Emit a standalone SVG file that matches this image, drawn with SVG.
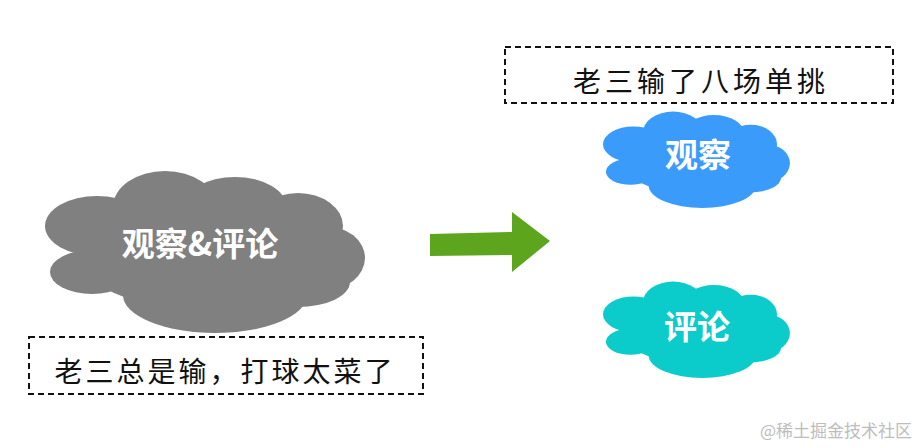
<svg xmlns="http://www.w3.org/2000/svg" xmlns:xlink="http://www.w3.org/1999/xlink" width="924" height="448" viewBox="0 0 924 448">
<defs>
<style>
.lbl{font-family:"Noto Sans CJK SC","Noto Sans",sans-serif;font-weight:bold;fill:#fff;text-anchor:middle}
.note{font-family:"Noto Sans CJK SC","Noto Sans",sans-serif;fill:#111;text-anchor:middle}
.box{fill:none;stroke:#111;stroke-width:2;stroke-dasharray:6 4}
</style>
<g id="cloud">
<ellipse cx="205" cy="250" rx="130" ry="60"/>
<ellipse cx="165" cy="207" rx="52" ry="36"/>
<ellipse cx="235" cy="208" rx="52" ry="31"/>
<ellipse cx="298" cy="226" rx="45" ry="33"/>
<ellipse cx="325" cy="258" rx="40" ry="32"/>
<ellipse cx="97" cy="226" rx="52" ry="30"/>
<ellipse cx="92" cy="272" rx="42" ry="22"/>
<ellipse cx="215" cy="295" rx="92" ry="38"/>
<ellipse cx="298" cy="282" rx="52" ry="25"/>
</g>
</defs>
<rect width="924" height="448" fill="#fff"/>
<g id="node-observe-comment">
<use xlink:href="#cloud" fill="#808080"/>
<text class="lbl" x="200" y="256" font-size="33">观察&amp;评论</text>
</g>
<g id="node-note-left">
<rect class="box" x="29" y="337" width="394" height="57"/>
<text class="note" x="225" y="382" font-size="28" letter-spacing="3">老三总是输，打球太菜了</text>
</g>
<g id="node-note-top">
<rect class="box" x="505" y="47" width="388" height="56"/>
<text class="note" x="701" y="92" font-size="28" letter-spacing="4">老三输了八场单挑</text>
</g>
<g id="node-observe">
<use xlink:href="#cloud" fill="#3a9bfb" transform="translate(603,105) scale(0.584,0.595) translate(-45,-160)"/>
<text class="lbl" x="698" y="167" font-size="33">观察</text>
</g>
<g id="node-comment">
<use xlink:href="#cloud" fill="#0ccbcb" transform="translate(603,275) scale(0.584,0.595) translate(-45,-160)"/>
<text class="lbl" x="697" y="339" font-size="33">评论</text>
</g>
<g id="connectors">
<polygon points="430,234 512,232 512,212 550,241 512,272 512,255 430,256" fill="#5ca51c"/>
</g>
<text x="836" y="437" font-family="Noto Sans CJK SC,sans-serif" font-size="17" fill="#bdbdbd" text-anchor="middle">@稀土掘金技术社区</text>
</svg>
